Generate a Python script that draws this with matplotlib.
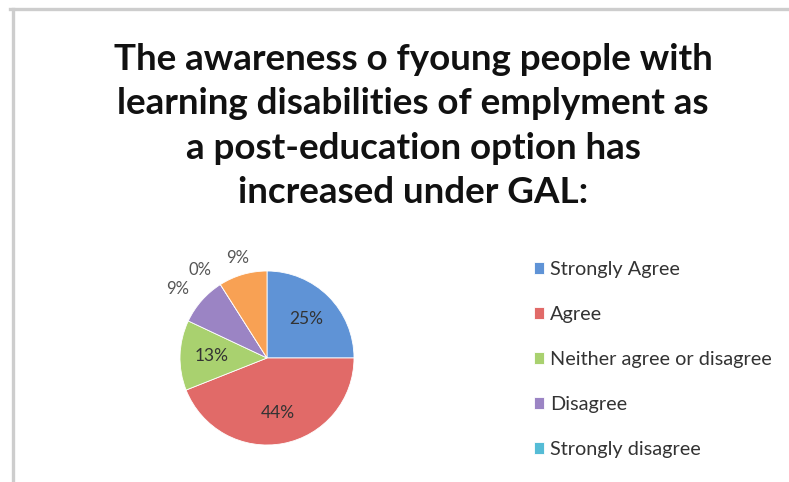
import matplotlib
matplotlib.use("Agg")
import matplotlib.pyplot as plt
from matplotlib.lines import Line2D
import numpy as np

# Survey responses (percent of respondents)
categories = ["Strongly Agree", "Agree", "Neither agree or disagree",
              "Disagree", "Strongly disagree", "Don't know"]
shares = [25, 44, 13, 9, 0, 9]
legend_count = 5  # only the first five answers appear in the key
colors = ["#5f93d6", "#e16a68", "#a9d16f", "#9b84c4", "#55bcd6", "#f8a154"]

title = ("The awareness o fyoung people with\n"
         "learning disabilities of emplyment as\n"
         "a post-education option has\n"
         "increased under GAL:")

plt.rcParams["font.family"] = ["Lato", "DejaVu Sans"]

W, H = 789, 482
fig = plt.figure(figsize=(W / 100, H / 100), dpi=100)
fig.patch.set_facecolor("white")

# light grey frame along the top and left edges
fig.add_artist(Line2D([10 / W, 1], [1 - 8.5 / H, 1 - 8.5 / H], color="#cdcdcd", lw=2.4))
fig.add_artist(Line2D([13 / W, 13 / W], [0, 1 - 8.5 / H], color="#cdcdcd", lw=2.4))

fig.text(413 / W, 1 - 126 / H, title, ha="center", va="center",
         fontsize=26.5, fontweight="bold", linespacing=1.41, color="#111111")

# pie axes: centre ~(267, 358) px, radius ~87 px
lim = 1.45
size = 87 * lim * 2
cx, cy = 267, 358
ax = fig.add_axes([(cx - size / 2) / W, (H - cy - size / 2) / H, size / W, size / H])
wedges, _ = ax.pie(shares, colors=colors, startangle=90, counterclock=False,
                   radius=1.0, wedgeprops=dict(linewidth=0.6, edgecolor="white"))
ax.set_xlim(-lim, lim)
ax.set_ylim(-lim, lim)
ax.set_aspect("equal")
ax.axis("off")

for w, v in zip(wedges, shares):
    mid = np.deg2rad((w.theta1 + w.theta2) / 2)
    if v >= 10:
        r = 0.64
        ax.text(r * np.cos(mid), r * np.sin(mid), f"{v}%", ha="center", va="center",
                fontsize=12.5, color="#333333")
    else:
        r = 1.2
        x, y = r * np.cos(mid), r * np.sin(mid)
        ax.text(x, y, f"{v}%", ha="right" if x < -0.4 else "center", va="center",
                fontsize=12, color="#555555")

leg = fig.legend(wedges[:legend_count], categories[:legend_count],
                 loc="upper left", bbox_to_anchor=(524 / W, 1 - 251 / H),
                 frameon=False, fontsize=14.3, handlelength=0.5, handleheight=0.5,
                 handletextpad=0.3, labelspacing=1.41, borderpad=0)
for t in leg.get_texts():
    t.set_color("#333333")

fig.savefig("out.png", dpi=100)
